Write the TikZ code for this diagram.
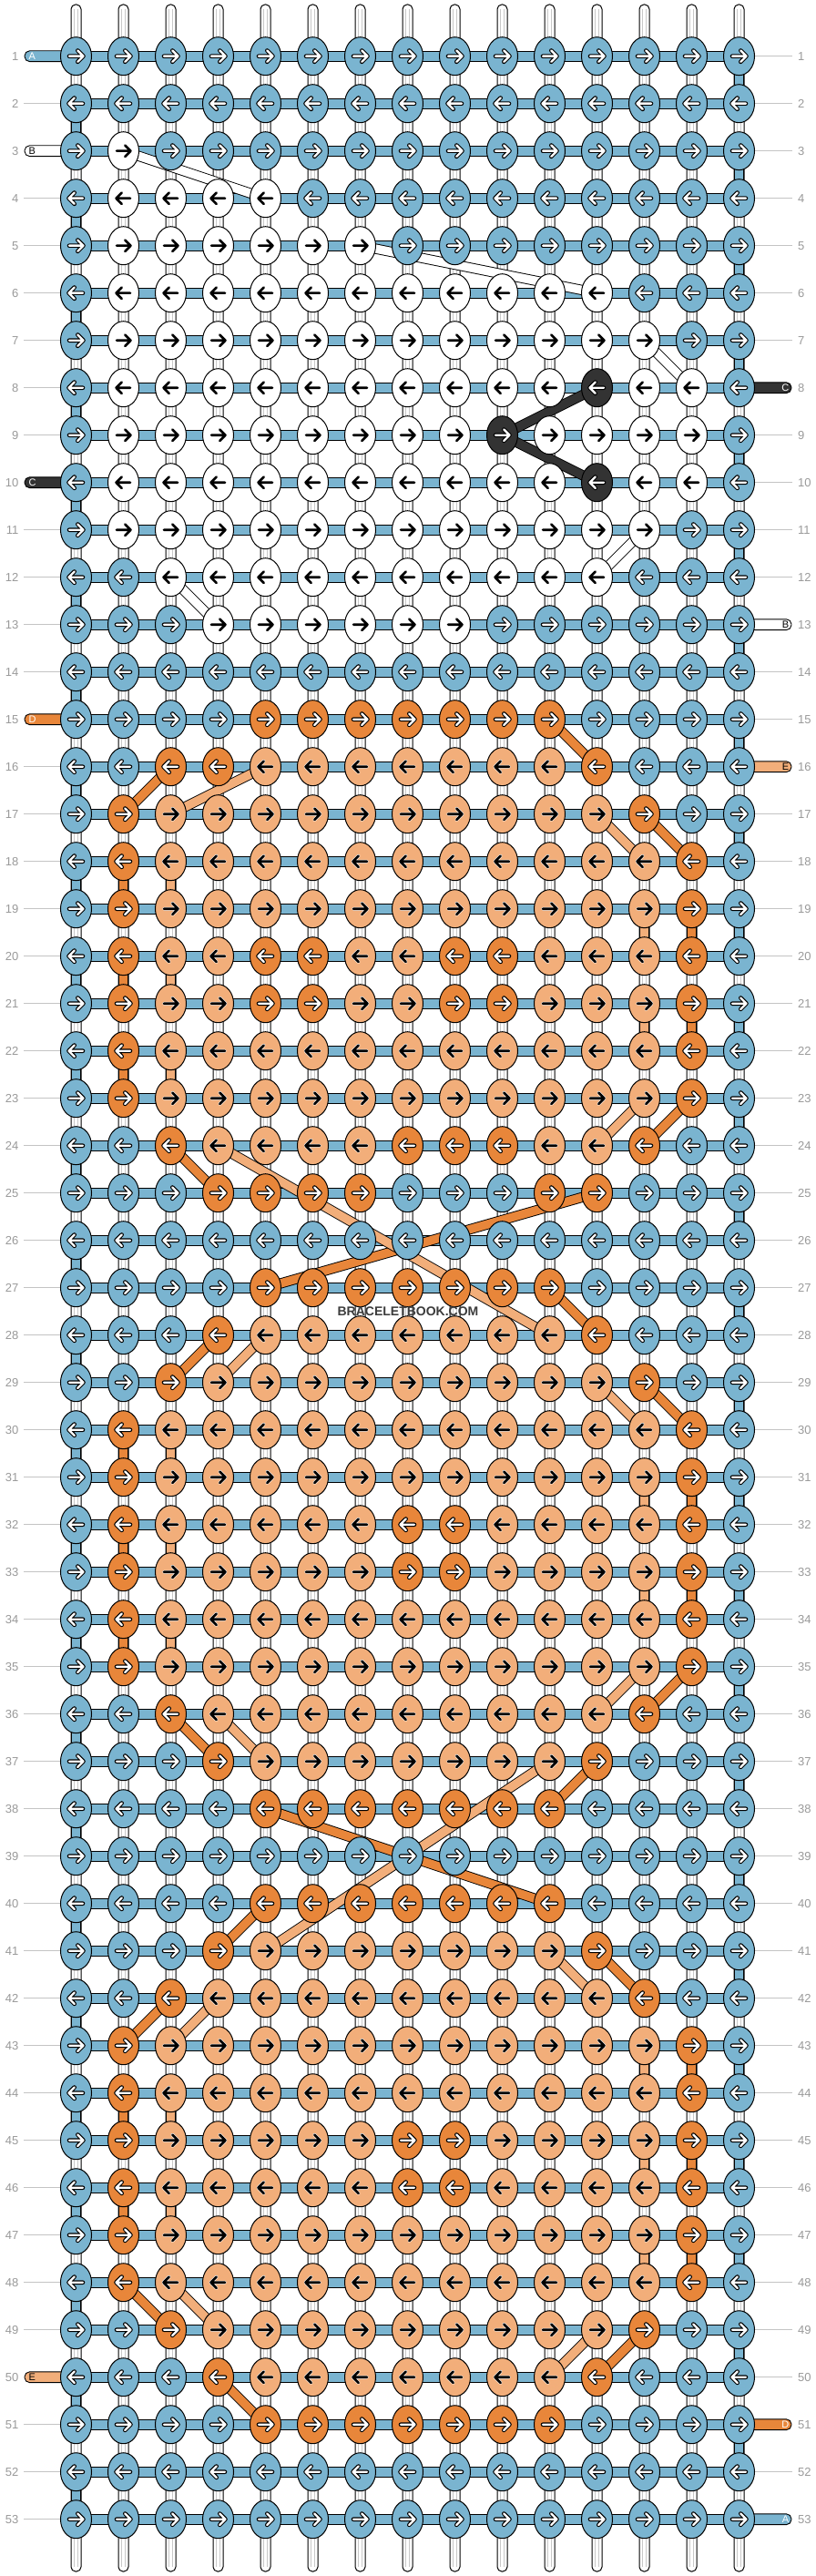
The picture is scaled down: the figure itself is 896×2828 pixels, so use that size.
\documentclass[tikz,border=0pt]{standalone}
\usepackage{fontspec}
\setmainfont{Liberation Sans}
\usetikzlibrary{shapes.geometric}
\pgfdeclarelayer{paper}
\pgfdeclarelayer{strings}
\pgfdeclarelayer{bands}
\pgfsetlayers{paper,strings,bands,main}

\definecolor{knota}{HTML}{7AB4D0}
\definecolor{knotb}{HTML}{FFFFFF}
\definecolor{knotc}{HTML}{333333}
\definecolor{knotd}{HTML}{E8863A}
\definecolor{knote}{HTML}{F2AE7A}
\definecolor{labelgrey}{HTML}{9A9A9A}
\definecolor{linegrey}{HTML}{C4C4C4}
\definecolor{stripgrey}{HTML}{C8C8C8}
\definecolor{wmgrey}{HTML}{3C3C3C}

\tikzset{
  knotnode/.style={ellipse, draw=black, line width=1pt, minimum width=34pt, minimum height=42pt, inner sep=0pt},
  arrw/.style={draw=white, line width=2.4pt, line cap=round, line join=round,
    preaction={draw=black, line width=4.6pt, line cap=round, line join=round}},
  arrk/.style={draw=black, line width=2.6pt, line cap=round, line join=round,
    preaction={draw=white, line width=3.8pt, line cap=round, line join=round}},
  arra/.style={arrw}, arrb/.style={arrk}, arrc/.style={arrw}, arrd/.style={arrw}, arre/.style={arrk},
  hbar/.style={draw=black, line width=0.9pt, double=knota, double distance=10pt},
  vseg/.style={draw=black, line width=0.9pt, double distance=9.4pt},
  band/.style={draw=black, line width=0.9pt, double distance=9.4pt},
  rowlabel/.style={text=labelgrey, font=\fontsize{13}{13}\selectfont, inner sep=0pt},
  labelline/.style={draw=linegrey, line width=1pt},
  tailletter/.style={font=\fontsize{11}{11}\selectfont, inner sep=0pt},
  tailbox/.style={draw=black, line width=0.9pt, rounded corners=5.5pt},
}

\newcommand\placeknot[3]{%
  \pgfmathsetmacro\kx{83.5+52*(#2-1)}%
  \pgfmathsetmacro\ky{61.7+52*(#1-1)}%
  \pgfmathtruncatemacro\kd{isodd(#1) ? 1 : -1}%
  \pgfmathsetmacro\kxl{\kx-7.5*(\kd)}%
  \pgfmathsetmacro\kxr{\kx+8*(\kd)}%
  \pgfmathsetmacro\kxh{\kx+1.8*(\kd)}%
  \pgfmathsetmacro\kyu{\ky-6.2}%
  \pgfmathsetmacro\kyd{\ky+6.2}%
  \node[knotnode, fill=knot#3] (k-#1-#2) at (\kx,\ky) {};%
  \draw[arr#3] (\kxl,\ky) -- (\kxr,\ky) (\kxh,\kyu) -- (\kxr,\ky) -- (\kxh,\kyd);%
}
\makeatletter
\newcommand\knotrow[2]{%
  \def\kcol{0}%
  \@tfor\kch:=#2\do{%
    \pgfmathtruncatemacro\kcol{\kcol+1}%
    \edef\kdo{\noexpand\placeknot{#1}{\kcol}{\kch}}\kdo
  }}
\makeatother

\begin{document}
\begin{tikzpicture}[x=1pt,y=-1pt]
\useasboundingbox (0,0) rectangle (896,2828);
\begin{pgfonlayer}{paper}
\fill[white] (0,0) rectangle (896,2828);
\end{pgfonlayer}

% knots
\knotrow{1}{aaaaaaaaaaaaaaa}
\knotrow{2}{aaaaaaaaaaaaaaa}
\knotrow{3}{abaaaaaaaaaaaaa}
\knotrow{4}{abbbbaaaaaaaaaa}
\knotrow{5}{abbbbbbaaaaaaaa}
\knotrow{6}{abbbbbbbbbbbaaa}
\knotrow{7}{abbbbbbbbbbbbaa}
\knotrow{8}{abbbbbbbbbbcbba}
\knotrow{9}{abbbbbbbbcbbbba}
\knotrow{10}{abbbbbbbbbbcbba}
\knotrow{11}{abbbbbbbbbbbbaa}
\knotrow{12}{aabbbbbbbbbbaaa}
\knotrow{13}{aaabbbbbbaaaaaa}
\knotrow{14}{aaaaaaaaaaaaaaa}
\knotrow{15}{aaaadddddddaaaa}
\knotrow{16}{aaddeeeeeeedaaa}
\knotrow{17}{adeeeeeeeeeedaa}
\knotrow{18}{adeeeeeeeeeeeda}
\knotrow{19}{adeeeeeeeeeeeda}
\knotrow{20}{adeeddeeddeeeda}
\knotrow{21}{adeeddeeddeeeda}
\knotrow{22}{adeeeeeeeeeeeda}
\knotrow{23}{adeeeeeeeeeeeda}
\knotrow{24}{aadeeeedddeedaa}
\knotrow{25}{aaaddddaaaddaaa}
\knotrow{26}{aaaaaaaaaaaaaaa}
\knotrow{27}{aaaadddddddaaaa}
\knotrow{28}{aaadeeeeeeedaaa}
\knotrow{29}{aadeeeeeeeeedaa}
\knotrow{30}{adeeeeeeeeeeeda}
\knotrow{31}{adeeeeeeeeeeeda}
\knotrow{32}{adeeeeeddeeeeda}
\knotrow{33}{adeeeeeddeeeeda}
\knotrow{34}{adeeeeeeeeeeeda}
\knotrow{35}{adeeeeeeeeeeeda}
\knotrow{36}{aadeeeeeeeeedaa}
\knotrow{37}{aaadeeeeeeedaaa}
\knotrow{38}{aaaadddddddaaaa}
\knotrow{39}{aaaaaaaaaaaaaaa}
\knotrow{40}{aaaadddddddaaaa}
\knotrow{41}{aaadeeeeeeedaaa}
\knotrow{42}{aadeeeeeeeeedaa}
\knotrow{43}{adeeeeeeeeeeeda}
\knotrow{44}{adeeeeeeeeeeeda}
\knotrow{45}{adeeeeeddeeeeda}
\knotrow{46}{adeeeeeddeeeeda}
\knotrow{47}{adeeeeeeeeeeeda}
\knotrow{48}{adeeeeeeeeeeeda}
\knotrow{49}{aadeeeeeeeeedaa}
\knotrow{50}{aaadeeeeeeedaaa}
\knotrow{51}{aaaadddddddaaaa}
\knotrow{52}{aaaaaaaaaaaaaaa}
\knotrow{53}{aaaaaaaaaaaaaaa}

% row labels
\foreach \r in {1,...,53} {
  \pgfmathsetmacro\ly{61.7+52*(\r-1)}
  \node[rowlabel, anchor=east] (ll-\r) at (20.5,\ly) {\r};
  \node[rowlabel, anchor=west] (lr-\r) at (876,\ly) {\r};
}

\begin{pgfonlayer}{strings}
% vertical strings
\foreach \j in {1,...,15} {
  \pgfmathsetmacro\sx{83.5+52*(\j-1)}
  \draw[fill=white, line width=1pt, rounded corners=5pt] (\sx-5.5,5) rectangle (\sx+5.5,2823);
  \draw[stripgrey, line width=0.8pt] (\sx-2,10) -- (\sx-2,2818) (\sx+2,10) -- (\sx+2,2818);
}
% edge turns of string A
\foreach \r in {2,4,...,52} {
  \pgfmathtruncatemacro\rr{\r+1}
  \draw[vseg, double=knota] (k-\r-1.center) -- (k-\rr-1.center);
}
\foreach \r in {1,3,...,51} {
  \pgfmathtruncatemacro\rr{\r+1}
  \draw[vseg, double=knota] (k-\r-15.center) -- (k-\rr-15.center);
}
% carried orange strings
\foreach \r in {18,20,22,30,32,34,44,46} {
  \pgfmathtruncatemacro\rr{\r+1}
  \draw[vseg, double=knotd] (k-\r-2.center) -- (k-\rr-2.center);
  \draw[vseg, double=knote] (k-\r-3.center) -- (k-\rr-3.center);
}
\foreach \r in {19,21,31,33,43,45,47} {
  \pgfmathtruncatemacro\rr{\r+1}
  \draw[vseg, double=knote] (k-\r-13.center) -- (k-\rr-13.center);
  \draw[vseg, double=knotd] (k-\r-14.center) -- (k-\rr-14.center);
}
% horizontal bars
\foreach \r in {1,...,53} {
  \draw[hbar] (k-\r-1.center) -- (k-\r-15.center);
}
% tails
\foreach \r/\tcol/\tlet/\ttext in {1/a/A/white, 3/b/B/black, 10/c/C/white, 15/d/D/white, 50/e/E/black} {
  \pgfmathsetmacro\ty{61.7+52*(\r-1)}
  \draw[tailbox, fill=knot\tcol] (27,\ty-5.9) rectangle (90,\ty+5.9);
  \node[tailletter, text=\ttext, anchor=west] (tl-\r) at (31.5,\ty) {\tlet};
}
\foreach \r/\tcol/\tlet/\ttext in {8/c/C/white, 13/b/B/black, 16/e/E/black, 51/d/D/white, 53/a/A/white} {
  \pgfmathsetmacro\ty{61.7+52*(\r-1)}
  \draw[tailbox, fill=knot\tcol] (805,\ty-5.9) rectangle (869,\ty+5.9);
  \node[tailletter, text=\ttext, anchor=east] (tr-\r) at (866.5,\ty) {\tlet};
}
% label lines
\foreach \r in {2,4,5,...,9,11,12,13,14,16,17,...,49,51,52,53} {
  \draw[labelline, shorten <=5.5pt] (ll-\r) -- (k-\r-1);
}
\foreach \r in {1,2,...,7,9,10,11,12,14,15,17,18,...,50,52} {
  \draw[labelline, shorten >=6pt] (k-\r-15) -- (lr-\r);
}
\end{pgfonlayer}

\begin{pgfonlayer}{bands}
\foreach \ra/\ca/\rb/\cb/\bc in {
  3/2/4/5/b, 5/7/6/12/b, 7/13/8/14/b, 11/13/12/12/b, 12/3/13/4/b,
  8/12/9/10/c, 9/10/10/12/c,
  15/11/16/12/d, 16/3/17/2/d, 17/13/18/14/d, 23/14/24/13/d, 24/3/25/4/d,
  25/12/27/5/d, 27/11/28/12/d, 28/4/29/3/d, 29/13/30/14/d, 35/14/36/13/d,
  36/3/37/4/d, 37/12/38/11/d, 38/5/40/11/d, 40/5/41/4/d, 41/12/42/13/d,
  42/3/43/2/d, 48/2/49/3/d, 49/13/50/12/d, 50/4/51/5/d,
  16/5/17/3/e, 17/12/18/13/e, 23/13/24/12/e, 24/4/28/11/e, 28/5/29/4/e,
  29/12/30/13/e, 35/13/36/12/e, 36/4/37/5/e, 37/11/41/5/e, 41/11/42/12/e,
  42/4/43/3/e, 48/3/49/4/e, 49/12/50/11/e} {
  \draw[band, double=knot\bc] (k-\ra-\ca.center) -- (k-\rb-\cb.center);
}
\end{pgfonlayer}

% watermark
\node[font=\bfseries\fontsize{14}{14}\selectfont, text=wmgrey, inner sep=0pt] (wm) at (448,1440) {BRACELETBOOK.COM};
\end{tikzpicture}
\end{document}
